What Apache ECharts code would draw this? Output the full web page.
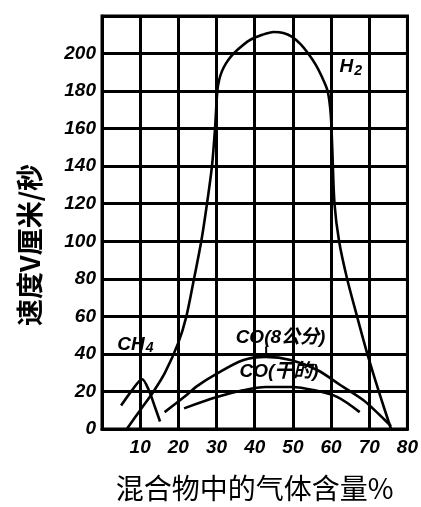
<!DOCTYPE html>
<html>
<head>
<meta charset="utf-8">
<script src="https://cdn.jsdelivr.net/npm/echarts@6/dist/echarts.min.js"></script>
<style>
html,body{margin:0;padding:0;background:#fff;}
#c{width:421px;height:507px;}
</style>
</head>
<body>
<div id="c"></div>
<script>
// ---- data ----
var xTicks = [10, 20, 30, 40, 50, 60, 70, 80];
var yTicks = [0, 20, 40, 60, 80, 100, 120, 140, 160, 180, 200];

var h2X = [6.5, 10, 13.5, 16.5, 20, 22.1, 24.1, 26, 27.5, 28.8, 29.6, 30.2, 30.7, 31.4, 32.4, 33.8, 35.5, 38.6, 42, 45, 47.5, 49.7, 52, 54, 56, 57.5, 59.1, 59.9, 60.3, 60.9, 62.1, 64.2, 66.8, 69.5, 72.5, 75.7];
var h2Y = [0, 10, 20, 30, 46, 60, 80, 100, 120, 140, 160, 180, 186, 190.5, 194.5, 198.5, 202, 207, 210, 211.5, 211, 209, 205, 200, 194, 188, 180, 168, 150, 120, 100, 80, 60, 40, 20, 0];

var ch4X = [5, 8, 10.5, 12.3, 13.9, 15.2];
var ch4Y = [12.5, 21, 26.5, 20.5, 11.5, 4];

var coWetX = [16.4, 21.5, 25, 30.1, 36.9, 42.9, 49.7, 56.5, 62.5, 68.5, 72.8, 75.7];
var coWetY = [9, 17, 23, 29.5, 36.6, 38.4, 36.6, 31.3, 23.3, 15.3, 7.3, 1.5];

var coDryX = [21.5, 30.1, 36.9, 42.9, 49.7, 55.7, 61.7, 67.5];
var coDryY = [11, 17, 20.6, 22.4, 22.4, 20.6, 17, 9];

var seriesNames = ['H2', 'CH4', 'CO(8公分)', 'CO(干的)'];
var xName = '混合物中的气体含量%';
var yName = '速度V厘米/秒';

function pairs(xs, ys) { return xs.map(function (x, i) { return [x, ys[i]]; }); }

var chart = echarts.init(document.getElementById('c'), null, {renderer: 'canvas'});
var tickFont = {color: '#000', fontSize: 19, fontWeight: 'bold', fontStyle: 'italic', fontFamily: 'Liberation Sans'};
var lineStyle = {color: '#000', width: 2.6};

function mk(name, xs, ys) {
  return {type: 'line', name: name, data: pairs(xs, ys), smooth: 0.3,
          showSymbol: false, symbol: 'none', lineStyle: lineStyle, silent: true, animation: false};
}

chart.setOption({
  animation: false,
  backgroundColor: '#fff',
  grid: {left: 102, right: 6, top: 16, bottom: 75, show: true, borderColor: '#000', borderWidth: 3},
  xAxis: {
    type: 'value', min: 0, max: 80, interval: 10,
    name: xName, nameLocation: 'middle', nameGap: 45,
    nameTextStyle: {color: '#000', fontSize: 28, fontFamily: 'Noto Sans CJK SC'},
    axisLine: {show: true, lineStyle: {color: '#000', width: 3}},
    axisTick: {show: false},
    splitLine: {show: true, lineStyle: {color: '#000', width: 3}},
    axisLabel: Object.assign({margin: 9, formatter: function (v) { return xTicks.indexOf(v) >= 0 ? String(v) : ''; }}, tickFont)
  },
  yAxis: {
    type: 'value', min: 0, max: 220, interval: 20,
    axisLine: {show: true, lineStyle: {color: '#000', width: 3}},
    axisTick: {show: false},
    splitLine: {show: true, lineStyle: {color: '#000', width: 3}},
    axisLabel: Object.assign({margin: 6, formatter: function (v) { return yTicks.indexOf(v) >= 0 ? String(v) : ''; }}, tickFont)
  },
  series: [
    mk(seriesNames[0], h2X, h2Y),
    mk(seriesNames[1], ch4X, ch4Y),
    mk(seriesNames[2], coWetX, coWetY),
    mk(seriesNames[3], coDryX, coDryY)
  ]
});

// annotation labels anchored in data coordinates
var richStyles = {
  m: {fontSize: 19, fontWeight: 'bold', fontStyle: 'italic', fontFamily: 'Liberation Sans, Noto Sans CJK SC', fill: '#000'},
  s: {fontSize: 14, fontWeight: 'bold', fontStyle: 'italic', fontFamily: 'Liberation Sans', fill: '#000', padding: [8, 0, 0, 1]}
};
var labelAnchors = [
  {text: '{m|H}{s|2}', at: [62.2, 193]},
  {text: '{m|CH}{s|4}', at: [4, 45]},
  {text: '{m|CO(8公分)}', at: [35.0, 48.5]},
  {text: '{m|CO(干的)}', at: [36, 30.4]}
];
var graphics = labelAnchors.map(function (a) {
  var p = chart.convertToPixel({gridIndex: 0}, a.at);
  return {type: 'text', x: p[0], y: p[1], silent: true,
          style: {text: a.text, rich: richStyles, fill: '#000', verticalAlign: 'middle'}};
});
// leader tick from CO(8公分) curve to its label
var l0 = chart.convertToPixel({gridIndex: 0}, [43, 38.4]);
var l1 = chart.convertToPixel({gridIndex: 0}, [43, 44]);
graphics.push({type: 'line', silent: true, shape: {x1: l0[0], y1: l0[1], x2: l1[0], y2: l1[1]}, style: {stroke: '#000', lineWidth: 2}});
graphics.push({
  type: 'text', x: 30, y: 245, rotation: Math.PI / 2, silent: true,
  style: {text: yName, font: 'bold 27px "Noto Sans CJK SC"', fill: '#000', align: 'center', verticalAlign: 'middle'}
});
chart.setOption({graphic: graphics});
</script>
</body>
</html>
